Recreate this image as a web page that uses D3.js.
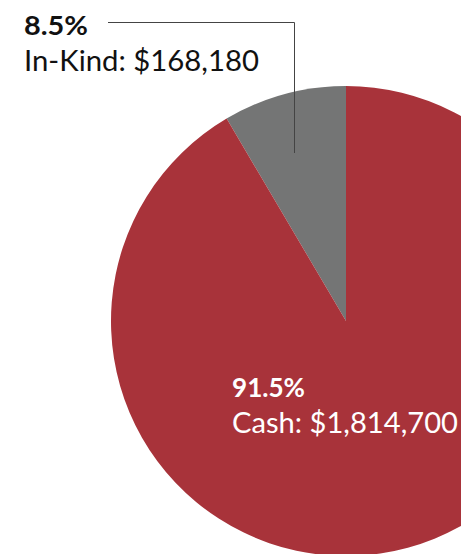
<!DOCTYPE html>
<html>
<head>
<meta charset="utf-8">
<script src="https://cdn.jsdelivr.net/npm/d3@7"></script>
<style>
  body { margin: 0; background: #fff; }
  svg { display: block; }
  text { font-family: Lato, "Open Sans", sans-serif; }
</style>
</head>
<body>
<svg id="svg"></svg>
<script>
const categories = ["In-Kind", "Cash"];
const amounts = [168180, 1814700];
const percents = ["8.5%", "91.5%"];
const amountLabels = ["$168,180", "$1,814,700"];
const colors = ["#747575", "#a8333a"];

const layout = {"width": 461, "height": 554, "cx": 346, "cy": 321, "radius": 235};

const svg = d3.select("#svg")
  .attr("width", layout.width)
  .attr("height", layout.height);

// In-Kind starts at 12 o'clock going counter-clockwise, so draw with reversed angles
const pie = d3.pie()
  .sort(null)
  .value(d => d.value)
  .startAngle(0)
  .endAngle(-2 * Math.PI);

const data = categories.map((c, i) => ({name: c, value: amounts[i], color: colors[i]}));

const arc = d3.arc().innerRadius(0).outerRadius(layout.radius);

const g = svg.append("g")
  .attr("transform", `translate(${layout.cx},${layout.cy})`);

g.selectAll("path")
  .data(pie(data))
  .join("path")
  .attr("d", arc)
  .attr("fill", d => d.data.color);

// leader line for In-Kind
const leader = d3.line();
svg.append("path")
  .attr("d", leader([[108, 22.5], [294.5, 22.5], [294.5, 153]]))
  .attr("fill", "none")
  .attr("stroke", "#444")
  .attr("stroke-width", 1);

function label(x, y, pct, pctW, txt, txtW, fill) {
  svg.append("text")
    .attr("x", x).attr("y", y)
    .attr("font-size", 27).attr("font-weight", 700)
    .attr("fill", fill)
    .attr("textLength", pctW).attr("lengthAdjust", "spacingAndGlyphs")
    .text(pct);
  svg.append("text")
    .attr("x", x).attr("y", y + 36)
    .attr("font-size", 29)
    .attr("fill", fill)
    .attr("textLength", txtW).attr("lengthAdjust", "spacingAndGlyphs")
    .text(txt);
}

label(24, 35, percents[0], 64, `${categories[0]}: ${amountLabels[0]}`, 235, "#111");
label(232, 397, percents[1], 73, `${categories[1]}: ${amountLabels[1]}`, 226, "#fff");
</script>
</body>
</html>
